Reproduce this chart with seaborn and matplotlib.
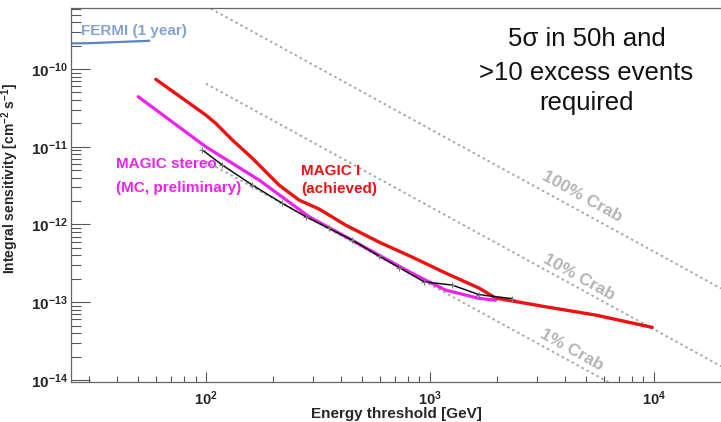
import numpy as np
import pandas as pd
import matplotlib
matplotlib.use("Agg")
import matplotlib.pyplot as plt
import seaborn as sns
from matplotlib.ticker import LogLocator, FuncFormatter, NullFormatter, FixedLocator

# ---------------- data ----------------
red_E = [59.8, 100, 110.8, 131.5, 161.5, 185.3, 212.5, 261, 320.5, 421.7, 594, 836, 1178, 1660, 1971, 3296, 5510, 9860]
red_S = [7.37e-11, 2.56e-11, 2.0e-11, 1.22e-11, 7.1e-12, 4.77e-12, 3.21e-12, 2.06e-12, 1.58e-12, 9.8e-13,
         5.93e-13, 3.8e-13, 2.37e-13, 1.52e-13, 1.13e-13, 8.73e-14, 6.83e-14, 4.74e-14]

mag_E = [49.9, 100, 173, 289, 422, 594, 836, 1178, 1660, 1971]
mag_S = [4.4e-11, 1.0e-11, 3.73e-12, 1.26e-12, 6.95e-13, 4.03e-13, 2.35e-13, 1.43e-13, 1.12e-13, 1.06e-13]

blk_E = [96.6, 118.6, 161.5, 219.7, 279.5, 355, 451, 594, 730, 944, 1262, 1660, 2340]
blk_S = [9.08e-12, 5.81e-12, 3.21e-12, 1.87e-12, 1.26e-12, 8.9e-13, 6.3e-13, 3.92e-13, 2.79e-13,
         1.83e-13, 1.66e-13, 1.25e-13, 1.11e-13]

fermi_E = [25, 30, 56]
fermi_S = [2.14e-10, 2.15e-10, 2.31e-10]

crab_E = [100, 1000, 10000, 20000]
crab100_S = [6.5e-10, 1.7e-11, 4.5e-13, 1.5e-13]
crab_fractions = [1.0, 0.1, 0.01]
crab_labels = ["100% Crab", "10% Crab", "1% Crab"]
crab_label_E = [4786, 4645, 4325]
crab_label_S = [2.25e-12, 2.1e-13, 2.42e-14]

x_major = [1e2, 1e3, 1e4]
y_major = [1e-14, 1e-13, 1e-12, 1e-11, 1e-10]

note_lines = ["5\u03c3 in 50h and", ">10 excess events", "required"]

# ---------------- style ----------------
sns.set_style("ticks")
plt.rcParams['font.family'] = ['Liberation Sans', 'DejaVu Sans']
plt.rcParams['mathtext.fontset'] = 'custom'
plt.rcParams['mathtext.rm'] = 'Liberation Sans'
plt.rcParams['mathtext.bf'] = 'Liberation Sans:bold'
plt.rcParams['mathtext.it'] = 'Liberation Sans:italic'

fig = plt.figure(figsize=(7.21, 4.22), dpi=100)
ax = fig.add_axes([71 / 721, 40 / 422, 650 / 721, 374 / 422])

gray_dot = '#a8a8a8'
for frac in crab_fractions:
    df = pd.DataFrame({"E": crab_E, "S": [v * frac for v in crab100_S]})
    sns.lineplot(data=df, x="E", y="S", ax=ax, color=gray_dot, lw=1.4,
                 linestyle=(0, (1.3, 1.6)), sort=False, estimator=None)

df_f = pd.DataFrame({"E": fermi_E, "S": fermi_S})
sns.lineplot(data=df_f, x="E", y="S", ax=ax, color='#5b84c4', lw=1.6, sort=False, estimator=None)

df_r = pd.DataFrame({"E": red_E, "S": red_S})
sns.lineplot(data=df_r, x="E", y="S", ax=ax, color='#ee1111', lw=2.4, sort=False, estimator=None)

df_m = pd.DataFrame({"E": mag_E, "S": mag_S})
sns.lineplot(data=df_m, x="E", y="S", ax=ax, color='#ee22ee', lw=2.3, sort=False, estimator=None)

df_b = pd.DataFrame({"E": blk_E, "S": blk_S})
sns.lineplot(data=df_b, x="E", y="S", ax=ax, color='#111111', lw=1.1, sort=False, estimator=None,
             marker='+', markersize=4, markeredgecolor='#777777', markeredgewidth=0.8)

ax.set_xscale('log')
ax.set_yscale('log')
ax.set_xlim(25, 20000)
ax.set_ylim(9.4e-15, 6.1e-10)

fmt = FuncFormatter(lambda v, p: r'$\mathbf{10^{%d}}$' % int(round(np.log10(v))))
ax.xaxis.set_major_locator(FixedLocator(x_major))
ax.yaxis.set_major_locator(FixedLocator(y_major))
for axis in (ax.xaxis, ax.yaxis):
    axis.set_minor_locator(LogLocator(base=10, subs=np.arange(2, 10), numticks=12))
    axis.set_major_formatter(fmt)
    axis.set_minor_formatter(NullFormatter())

ax.tick_params(axis='y', which='major', direction='in', length=14, width=0.8, color='#555555',
               labelsize=11, pad=2)
ax.tick_params(axis='y', which='minor', direction='in', length=7, width=0.8, color='#555555')
ax.tick_params(axis='x', which='major', direction='in', length=7.5, width=0.8, color='#555555',
               labelsize=10.5, pad=5)
ax.tick_params(axis='x', which='minor', direction='in', length=4.5, width=0.8, color='#555555')

for s in ('left', 'bottom', 'top'):
    ax.spines[s].set_color('#666666')
    ax.spines[s].set_linewidth(0.9)
ax.spines['right'].set_visible(False)

ax.set_xlabel("Energy threshold [GeV]", fontsize=11, fontweight='bold', labelpad=0)
ax.xaxis.set_label_coords(0.5, -0.0856)
ax.xaxis.label.set_va('center')
ax.set_ylabel(r"Integral sensitivity [cm$^{\mathbf{-2}}$ s$^{\mathbf{-1}}$]", fontsize=10,
              fontweight='bold')
ax.yaxis.set_label_coords(-0.077, 0.543)

# annotations
ax.text(27.7, 3.08e-10, "FERMI (1 year)", color='#86a2d4', fontsize=11, fontweight='bold',
        ha='left', va='center')
ax.text(39.8, 5.98e-12, "MAGIC stereo", color='#ee22ee', fontsize=11, fontweight='bold',
        ha='left', va='center')
ax.text(39.8, 2.94e-12, "(MC, preliminary)", color='#ee22ee', fontsize=11, fontweight='bold',
        ha='left', va='center')
ax.text(265.7, 4.9e-12, "MAGIC I", color='#ee1111', fontsize=11, fontweight='bold',
        ha='left', va='center')
ax.text(265.7, 2.83e-12, "(achieved)", color='#ee1111', fontsize=11, fontweight='bold',
        ha='left', va='center')

for lab, xe, ys in zip(crab_labels, crab_label_E, crab_label_S):
    ax.text(xe, ys, lab, color='#b4b4b4', fontsize=12.5, fontweight='bold', rotation=-29,
            rotation_mode='anchor', ha='center', va='center')

for txt, yf in zip(note_lines, [0.918, 0.827, 0.747]):
    ax.text(0.793, yf, txt, transform=ax.transAxes, fontsize=18.5, ha='center', va='center',
            color='#111111')

fig.savefig("out.png", dpi=100)
